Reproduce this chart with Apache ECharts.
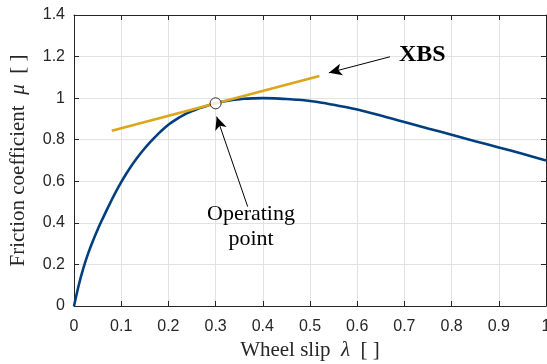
<!DOCTYPE html>
<html>
<head>
<meta charset="utf-8">
<script src="https://cdn.jsdelivr.net/npm/echarts@6/dist/echarts.min.js"></script>
<style>
  html, body { margin: 0; padding: 0; background: #ffffff; }
  #chart { width: 547px; height: 364px; }
</style>
</head>
<body>
<div id="chart"></div>
<script>
// Friction curve mu(lambda)
const slip = [
  0.00, 0.01, 0.02, 0.03, 0.04, 0.05, 0.06, 0.07, 0.08, 0.09,
  0.10, 0.11, 0.12, 0.13, 0.14, 0.15, 0.16, 0.17, 0.18, 0.19,
  0.20, 0.21, 0.22, 0.23, 0.24, 0.25, 0.26, 0.27, 0.28, 0.29,
  0.30, 0.32, 0.34, 0.36, 0.38, 0.40, 0.425, 0.45, 0.475, 0.50,
  0.525, 0.55, 0.575, 0.60, 0.625, 0.65, 0.675, 0.70, 0.75, 0.80,
  0.85, 0.90, 0.95, 1.00
];
const friction = [
  0.000, 0.100, 0.183, 0.253, 0.313, 0.367, 0.417, 0.465, 0.511, 0.555,
  0.596, 0.634, 0.669, 0.701, 0.731, 0.759, 0.785, 0.809, 0.832, 0.853,
  0.872, 0.888, 0.903, 0.916, 0.928, 0.938, 0.947, 0.955, 0.962, 0.969,
  0.975, 0.985, 0.992, 0.997, 0.999, 1.000, 0.999, 0.996, 0.992, 0.986,
  0.978, 0.968, 0.957, 0.945, 0.931, 0.916, 0.901, 0.885, 0.854, 0.824,
  0.793, 0.763, 0.732, 0.700
];

// Tangent (XBS) line at the operating point
const tangentSlip = [0.08, 0.52];
const tangentFriction = [0.843, 1.107];

// Operating point
const opSlip = [0.30];
const opFriction = [0.975];

// Axis ticks
const xTicks = [0, 0.1, 0.2, 0.3, 0.4, 0.5, 0.6, 0.7, 0.8, 0.9, 1];
const yTicks = [0, 0.2, 0.4, 0.6, 0.8, 1, 1.2, 1.4];

const axisColor = '#262626';
const gridColor = '#e2e2e2';
const serif = '"Liberation Serif", "DejaVu Serif", serif';
const sans = '"Liberation Sans", Arial, sans-serif';

const zip = (xs, ys) => xs.map((x, i) => [x, ys[i]]);
const tickText = ticks => v => String(ticks.find(t => Math.abs(t - v) < 1e-9) ?? v);

const chart = echarts.init(document.getElementById('chart'), null, { renderer: 'canvas' });

const xBase = {
  type: 'value',
  min: xTicks[0],
  max: xTicks[xTicks.length - 1],
  interval: xTicks[1] - xTicks[0],
  axisLine: { show: true, onZero: false, lineStyle: { color: axisColor, width: 1 } },
  axisTick: { show: true, inside: true, length: 5, lineStyle: { color: axisColor, width: 1 } }
};
const yBase = {
  type: 'value',
  min: yTicks[0],
  max: yTicks[yTicks.length - 1],
  interval: yTicks[1] - yTicks[0],
  axisLine: { show: true, onZero: false, lineStyle: { color: axisColor, width: 1 } },
  axisTick: { show: true, inside: true, length: 5, lineStyle: { color: axisColor, width: 1 } }
};

const nameStyle = {
  fontFamily: serif, fontSize: 21, color: axisColor,
  rich: { m: { fontFamily: serif, fontSize: 21, fontStyle: 'italic', color: axisColor } }
};

chart.setOption({
  animation: false,
  backgroundColor: '#ffffff',
  grid: {
    left: 74, top: 15, width: 472, height: 291,
    containLabel: false,
    outerBoundsMode: 'none'
  },
  xAxis: [
    Object.assign({}, xBase, {
      position: 'bottom',
      axisLabel: { show: true, margin: 13, color: axisColor, fontFamily: sans, fontSize: 16,
        formatter: tickText(xTicks) },
      splitLine: { show: true, lineStyle: { color: gridColor, width: 1 } },
      name: 'Wheel slip\u2002{m|λ}\u2002[ ]',
      nameLocation: 'middle',
      nameGap: 32,
      nameTextStyle: nameStyle
    }),
    Object.assign({}, xBase, {
      position: 'top',
      axisLabel: { show: false },
      splitLine: { show: false }
    })
  ],
  yAxis: [
    Object.assign({}, yBase, {
      position: 'left',
      axisLabel: { show: true, margin: 9, color: axisColor, fontFamily: sans, fontSize: 16,
        formatter: tickText(yTicks) },
      splitLine: { show: true, lineStyle: { color: gridColor, width: 1 } },
      name: 'Friction coefficient\u2002{m|μ}\u2002[ ]',
      nameLocation: 'middle',
      nameGap: 45,
      nameTextStyle: nameStyle
    }),
    Object.assign({}, yBase, {
      position: 'right',
      axisLabel: { show: false },
      splitLine: { show: false }
    })
  ],
  series: [
    {
      name: 'Friction curve',
      type: 'line',
      xAxisIndex: 0, yAxisIndex: 0,
      data: zip(slip, friction),
      smooth: 0.2,
      showSymbol: false,
      symbol: 'none',
      lineStyle: { color: '#003f7f', width: 2.6 },
      z: 2
    },
    {
      name: 'XBS',
      type: 'line',
      xAxisIndex: 0, yAxisIndex: 0,
      data: zip(tangentSlip, tangentFriction),
      showSymbol: false,
      symbol: 'none',
      lineStyle: { color: '#dca51c', width: 2.6 },
      z: 3
    },
    {
      name: 'Operating point',
      type: 'scatter',
      xAxisIndex: 0, yAxisIndex: 0,
      data: zip(opSlip, opFriction),
      symbol: 'circle',
      symbolSize: 11,
      itemStyle: { color: '#ffffff', borderColor: '#000000', borderWidth: 1 },
      z: 5,
      markLine: {
        silent: true,
        symbol: ['none', 'arrow'],
        symbolSize: [9, 13],
        lineStyle: { color: '#000000', width: 1, type: 'solid' },
        itemStyle: { color: '#000000' },
        label: { show: false },
        emphasis: { disabled: true },
        data: [
          [{ coord: [0.368, 0.478] }, { coord: [0.3023, 0.911] }],
          [{ coord: [0.6695, 1.199] }, { coord: [0.540, 1.122] }]
        ]
      },
      markPoint: {
        silent: true,
        symbol: 'circle',
        symbolSize: 0,
        data: [
          {
            coord: [0.375, 0.38],
            label: {
              show: true, position: 'inside', formatter: 'Operating\npoint',
              fontFamily: serif, fontSize: 22, lineHeight: 25, color: '#000000', align: 'center'
            }
          },
          {
            coord: [0.738, 1.2075],
            label: {
              show: true, position: 'inside', formatter: 'XBS',
              fontFamily: serif, fontSize: 24, fontWeight: 'bold', color: '#000000'
            }
          }
        ]
      }
    }
  ]
});
</script>
</body>
</html>
